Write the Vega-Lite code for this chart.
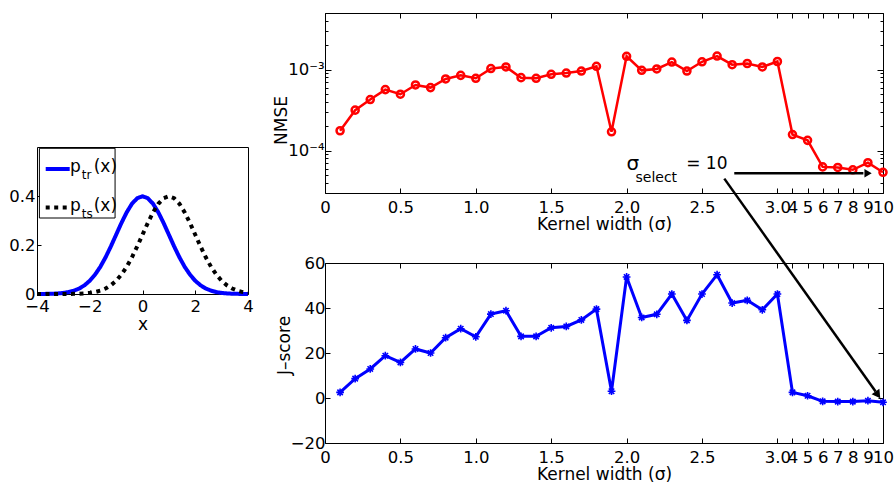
{
  "$schema": "https://vega.github.io/schema/vega-lite/v6.json",
  "background": "white",
  "padding": {"left": 8, "top": 4, "right": 2, "bottom": 1},
  "config": {
    "font": "DejaVu Sans",
    "view": {"stroke": "black", "strokeWidth": 1},
    "axis": {
      "domain": false, "grid": false, "tickColor": "black", "tickSize": -5, "tickWidth": 1,
      "labelColor": "black", "labelFont": "DejaVu Sans", "labelFontSize": 16.5,
      "titleFont": "DejaVu Sans", "titleFontSize": 17, "titleFontWeight": "normal", "titleColor": "black",
      "labelPadding": 11, "titlePadding": 1, "labelOverlap": false, "labelFlush": false, "labelBound": false
    }
  },
  "datasets": {
    "pdf": [
      {"x": -4.0, "p": 0.0001, "dist": "tr"}, {"x": -3.8, "p": 0.0003, "dist": "tr"}, {"x": -3.6, "p": 0.0006, "dist": "tr"},
      {"x": -3.4, "p": 0.0012, "dist": "tr"}, {"x": -3.2, "p": 0.0024, "dist": "tr"}, {"x": -3.0, "p": 0.0044, "dist": "tr"},
      {"x": -2.8, "p": 0.0079, "dist": "tr"}, {"x": -2.6, "p": 0.0136, "dist": "tr"}, {"x": -2.4, "p": 0.0224, "dist": "tr"},
      {"x": -2.2, "p": 0.0355, "dist": "tr"}, {"x": -2.0, "p": 0.0540, "dist": "tr"}, {"x": -1.8, "p": 0.0790, "dist": "tr"},
      {"x": -1.6, "p": 0.1109, "dist": "tr"}, {"x": -1.4, "p": 0.1497, "dist": "tr"}, {"x": -1.2, "p": 0.1942, "dist": "tr"},
      {"x": -1.0, "p": 0.2420, "dist": "tr"}, {"x": -0.8, "p": 0.2897, "dist": "tr"}, {"x": -0.6, "p": 0.3332, "dist": "tr"},
      {"x": -0.4, "p": 0.3683, "dist": "tr"}, {"x": -0.2, "p": 0.3910, "dist": "tr"}, {"x": 0.0, "p": 0.3989, "dist": "tr"},
      {"x": 0.2, "p": 0.3910, "dist": "tr"}, {"x": 0.4, "p": 0.3683, "dist": "tr"}, {"x": 0.6, "p": 0.3332, "dist": "tr"},
      {"x": 0.8, "p": 0.2897, "dist": "tr"}, {"x": 1.0, "p": 0.2420, "dist": "tr"}, {"x": 1.2, "p": 0.1942, "dist": "tr"},
      {"x": 1.4, "p": 0.1497, "dist": "tr"}, {"x": 1.6, "p": 0.1109, "dist": "tr"}, {"x": 1.8, "p": 0.0790, "dist": "tr"},
      {"x": 2.0, "p": 0.0540, "dist": "tr"}, {"x": 2.2, "p": 0.0355, "dist": "tr"}, {"x": 2.4, "p": 0.0224, "dist": "tr"},
      {"x": 2.6, "p": 0.0136, "dist": "tr"}, {"x": 2.8, "p": 0.0079, "dist": "tr"}, {"x": 3.0, "p": 0.0044, "dist": "tr"},
      {"x": 3.2, "p": 0.0024, "dist": "tr"}, {"x": 3.4, "p": 0.0012, "dist": "tr"}, {"x": 3.6, "p": 0.0006, "dist": "tr"},
      {"x": 3.8, "p": 0.0003, "dist": "tr"}, {"x": 4.0, "p": 0.0001, "dist": "tr"},
      {"x": -4.0, "p": 0.0, "dist": "ts"}, {"x": -3.8, "p": 0.0, "dist": "ts"}, {"x": -3.6, "p": 0.00001, "dist": "ts"},
      {"x": -3.4, "p": 0.00003, "dist": "ts"}, {"x": -3.2, "p": 0.00006, "dist": "ts"}, {"x": -3.0, "p": 0.0001, "dist": "ts"},
      {"x": -2.8, "p": 0.0003, "dist": "ts"}, {"x": -2.6, "p": 0.0006, "dist": "ts"}, {"x": -2.4, "p": 0.0012, "dist": "ts"},
      {"x": -2.2, "p": 0.0024, "dist": "ts"}, {"x": -2.0, "p": 0.0044, "dist": "ts"}, {"x": -1.8, "p": 0.0079, "dist": "ts"},
      {"x": -1.6, "p": 0.0136, "dist": "ts"}, {"x": -1.4, "p": 0.0224, "dist": "ts"}, {"x": -1.2, "p": 0.0355, "dist": "ts"},
      {"x": -1.0, "p": 0.0540, "dist": "ts"}, {"x": -0.8, "p": 0.0790, "dist": "ts"}, {"x": -0.6, "p": 0.1109, "dist": "ts"},
      {"x": -0.4, "p": 0.1497, "dist": "ts"}, {"x": -0.2, "p": 0.1942, "dist": "ts"}, {"x": 0.0, "p": 0.2420, "dist": "ts"},
      {"x": 0.2, "p": 0.2897, "dist": "ts"}, {"x": 0.4, "p": 0.3332, "dist": "ts"}, {"x": 0.6, "p": 0.3683, "dist": "ts"},
      {"x": 0.8, "p": 0.3910, "dist": "ts"}, {"x": 1.0, "p": 0.3989, "dist": "ts"}, {"x": 1.2, "p": 0.3910, "dist": "ts"},
      {"x": 1.4, "p": 0.3683, "dist": "ts"}, {"x": 1.6, "p": 0.3332, "dist": "ts"}, {"x": 1.8, "p": 0.2897, "dist": "ts"},
      {"x": 2.0, "p": 0.2420, "dist": "ts"}, {"x": 2.2, "p": 0.1942, "dist": "ts"}, {"x": 2.4, "p": 0.1497, "dist": "ts"},
      {"x": 2.6, "p": 0.1109, "dist": "ts"}, {"x": 2.8, "p": 0.0790, "dist": "ts"}, {"x": 3.0, "p": 0.0540, "dist": "ts"},
      {"x": 3.2, "p": 0.0355, "dist": "ts"}, {"x": 3.4, "p": 0.0224, "dist": "ts"}, {"x": 3.6, "p": 0.0136, "dist": "ts"},
      {"x": 3.8, "p": 0.0079, "dist": "ts"}, {"x": 4.0, "p": 0.0044, "dist": "ts"}
    ],
    "scores": [
      {"sigma": 0.1, "nmse": 0.000176, "jscore": 2.5},
      {"sigma": 0.2, "nmse": 0.000316, "jscore": 8.6},
      {"sigma": 0.3, "nmse": 0.000427, "jscore": 12.9},
      {"sigma": 0.4, "nmse": 0.000567, "jscore": 18.8},
      {"sigma": 0.5, "nmse": 0.000497, "jscore": 15.8},
      {"sigma": 0.6, "nmse": 0.000647, "jscore": 21.8},
      {"sigma": 0.7, "nmse": 0.000600, "jscore": 20.0},
      {"sigma": 0.8, "nmse": 0.000767, "jscore": 26.8},
      {"sigma": 0.9, "nmse": 0.000850, "jscore": 30.8},
      {"sigma": 1.0, "nmse": 0.000782, "jscore": 27.2},
      {"sigma": 1.1, "nmse": 0.00103, "jscore": 37.3},
      {"sigma": 1.2, "nmse": 0.00108, "jscore": 38.8},
      {"sigma": 1.3, "nmse": 0.000796, "jscore": 27.4},
      {"sigma": 1.4, "nmse": 0.000782, "jscore": 27.4},
      {"sigma": 1.5, "nmse": 0.000875, "jscore": 31.2},
      {"sigma": 1.6, "nmse": 0.000908, "jscore": 31.8},
      {"sigma": 1.7, "nmse": 0.000960, "jscore": 34.7},
      {"sigma": 1.8, "nmse": 0.00110, "jscore": 39.5},
      {"sigma": 1.9, "nmse": 0.000171, "jscore": 3.0},
      {"sigma": 2.0, "nmse": 0.00146, "jscore": 53.8},
      {"sigma": 2.1, "nmse": 0.000980, "jscore": 35.8},
      {"sigma": 2.2, "nmse": 0.00102, "jscore": 37.2},
      {"sigma": 2.3, "nmse": 0.00124, "jscore": 46.2},
      {"sigma": 2.4, "nmse": 0.000960, "jscore": 34.5},
      {"sigma": 2.5, "nmse": 0.00125, "jscore": 46.2},
      {"sigma": 2.6, "nmse": 0.00147, "jscore": 54.8},
      {"sigma": 2.7, "nmse": 0.00115, "jscore": 42.2},
      {"sigma": 2.8, "nmse": 0.00119, "jscore": 43.4},
      {"sigma": 2.9, "nmse": 0.00108, "jscore": 39.2},
      {"sigma": 3.0, "nmse": 0.00126, "jscore": 46.2},
      {"sigma": 4, "nmse": 0.000158, "jscore": 2.5},
      {"sigma": 5, "nmse": 0.000134, "jscore": 1.0},
      {"sigma": 6, "nmse": 0.000063, "jscore": -1.5},
      {"sigma": 7, "nmse": 0.000062, "jscore": -1.6},
      {"sigma": 8, "nmse": 0.000058, "jscore": -1.6},
      {"sigma": 9, "nmse": 0.000071, "jscore": -1.2},
      {"sigma": 10, "nmse": 0.000054, "jscore": -1.9}
    ]
  },
  "spacing": 15,
  "hconcat": [
    {
      "spacing": 0,
      "vconcat": [
        {
          "width": 211, "height": 133,
          "view": {"stroke": null},
          "data": {"values": [{}]},
          "mark": {"type": "text", "text": ""}
        },
        {
          "width": 211, "height": 147,
          "resolve": {"axis": {"x": "independent", "y": "independent"}},
          "layer": [
            {
              "data": {"name": "pdf"},
              "mark": {"type": "line", "strokeWidth": 4, "strokeCap": "butt"},
              "encoding": {
                "x": {"field": "x", "type": "quantitative", "scale": {"domain": [-4, 4], "nice": false},
                      "axis": {"values": [-4, -2, 0, 2, 4], "title": "x", "labelPadding": 8, "titlePadding": 2, "tickSize": -4}},
                "y": {"field": "p", "type": "quantitative", "scale": {"domain": [0, 0.6], "nice": false},
                      "axis": {"values": [0, 0.2, 0.4], "labelExpr": "datum.value == 0 ? '0' : format(datum.value, '.1f')", "title": null, "labelPadding": 6, "tickSize": -4}},
                "color": {"field": "dist", "type": "nominal", "scale": {"domain": ["tr", "ts"], "range": ["#0000ff", "#000000"]}, "legend": null},
                "strokeDash": {"field": "dist", "type": "nominal", "scale": {"domain": ["tr", "ts"], "range": [[1, 0], [4, 4.5]]}, "legend": null}
              }
            },
            {
              "data": {"values": [{}]},
              "mark": {"type": "rect", "fill": "white", "stroke": "black", "strokeWidth": 1},
              "encoding": {"x": {"datum": -3.909, "type": "quantitative", "axis": null}, "x2": {"datum": -1.04},
                           "y": {"datum": 0.5947, "type": "quantitative", "axis": null}, "y2": {"datum": 0.3102}}
            },
            {
              "data": {"values": [{}]},
              "mark": {"type": "rule", "color": "#0000ff", "strokeWidth": 4},
              "encoding": {"x": {"datum": -3.67, "type": "quantitative", "axis": null}, "x2": {"datum": -2.76},
                           "y": {"datum": 0.5102, "type": "quantitative", "axis": null}}
            },
            {
              "data": {"values": [{}]},
              "mark": {"type": "rule", "color": "#000000", "strokeWidth": 4, "strokeDash": [4, 4.5]},
              "encoding": {"x": {"datum": -3.67, "type": "quantitative", "axis": null}, "x2": {"datum": -2.76},
                           "y": {"datum": 0.3535, "type": "quantitative", "axis": null}}
            },
            {
              "data": {"values": [{}]},
              "mark": {"type": "text", "text": "p", "align": "left", "baseline": "alphabetic", "fontSize": 17, "color": "black"},
              "encoding": {"x": {"datum": -2.749, "type": "quantitative", "axis": null}, "y": {"datum": 0.4992, "type": "quantitative", "axis": null}}
            },
            {
              "data": {"values": [{}]},
              "mark": {"type": "text", "text": "tr", "align": "left", "baseline": "alphabetic", "fontSize": 12, "color": "black"},
              "encoding": {"x": {"datum": -2.305, "type": "quantitative", "axis": null}, "y": {"datum": 0.4694, "type": "quantitative", "axis": null}}
            },
            {
              "data": {"values": [{}]},
              "mark": {"type": "text", "text": "(x)", "align": "left", "baseline": "alphabetic", "fontSize": 17, "color": "black"},
              "encoding": {"x": {"datum": -1.85, "type": "quantitative", "axis": null}, "y": {"datum": 0.4992, "type": "quantitative", "axis": null}}
            },
            {
              "data": {"values": [{}]},
              "mark": {"type": "text", "text": "p", "align": "left", "baseline": "alphabetic", "fontSize": 17, "color": "black"},
              "encoding": {"x": {"datum": -2.749, "type": "quantitative", "axis": null}, "y": {"datum": 0.34, "type": "quantitative", "axis": null}}
            },
            {
              "data": {"values": [{}]},
              "mark": {"type": "text", "text": "ts", "align": "left", "baseline": "alphabetic", "fontSize": 12, "color": "black"},
              "encoding": {"x": {"datum": -2.305, "type": "quantitative", "axis": null}, "y": {"datum": 0.3086, "type": "quantitative", "axis": null}}
            },
            {
              "data": {"values": [{}]},
              "mark": {"type": "text", "text": "(x)", "align": "left", "baseline": "alphabetic", "fontSize": 17, "color": "black"},
              "encoding": {"x": {"datum": -1.85, "type": "quantitative", "axis": null}, "y": {"datum": 0.34, "type": "quantitative", "axis": null}}
            }
          ]
        }
      ]
    },
    {
      "bounds": "flush",
      "spacing": 70,
      "vconcat": [
        {
          "width": 558, "height": 180,
          "data": {"name": "scores"},
          "resolve": {"axis": {"x": "independent", "y": "independent"}},
          "layer": [
            {
              "mark": {"type": "line", "color": "#ff0000", "strokeWidth": 2.5},
              "encoding": {
                "x": {"field": "sigma", "type": "quantitative",
                      "scale": {"domain": [0, 3, 10], "range": [0, 452.4, 558], "nice": false, "zero": false},
                      "axis": {"orient": "bottom", "values": [0, 0.5, 1, 1.5, 2, 2.5, 3, 4, 5, 6, 7, 8, 9, 10],
                               "labelExpr": "datum.value > 0 && datum.value <= 3 ? format(datum.value, '.1f') : format(datum.value, 'd')",
                               "title": "Kernel width (σ)"}},
                "y": {"field": "nmse", "type": "quantitative",
                      "scale": {"type": "log", "domain": [0.00003, 0.005], "nice": false},
                      "axis": {"orient": "left",
                               "values": [0.00003, 0.00004, 0.00005, 0.00006, 0.00007, 0.00008, 0.00009, 0.0001, 0.0002, 0.0003, 0.0004, 0.0005, 0.0006, 0.0007, 0.0008, 0.0009, 0.001, 0.002, 0.003, 0.004, 0.005],
                               "labelExpr": "datum.value == 0.001 ? '10⁻³' : datum.value == 0.0001 ? '10⁻⁴' : ''",
                               "tickSize": {"condition": {"test": "datum.value == 0.001 || datum.value == 0.0001", "value": -6}, "value": -3},
                               "labelPadding": 7, "title": "NMSE", "titleY": 107, "titlePadding": -3}}
              }
            },
            {
              "mark": {"type": "point", "shape": "circle", "filled": false, "color": "#ff0000", "strokeWidth": 2.5, "size": 50, "opacity": 1},
              "encoding": {
                "x": {"field": "sigma", "type": "quantitative",
                      "axis": {"orient": "top", "values": [0, 0.5, 1, 1.5, 2, 2.5, 3, 4, 5, 6, 7, 8, 9, 10], "labels": false, "title": null}},
                "y": {"field": "nmse", "type": "quantitative",
                      "axis": {"orient": "right",
                               "values": [0.00003, 0.00004, 0.00005, 0.00006, 0.00007, 0.00008, 0.00009, 0.0001, 0.0002, 0.0003, 0.0004, 0.0005, 0.0006, 0.0007, 0.0008, 0.0009, 0.001, 0.002, 0.003, 0.004, 0.005],
                               "tickSize": {"condition": {"test": "datum.value == 0.001 || datum.value == 0.0001", "value": -6}, "value": -3},
                               "labels": false, "title": null}}
              }
            },
            {
              "data": {"values": [{}]},
              "mark": {"type": "text", "text": "σ", "align": "left", "baseline": "alphabetic", "fontSize": 20, "color": "black"},
              "encoding": {"x": {"datum": 2.0, "type": "quantitative", "axis": null}, "y": {"datum": 0.0000577, "type": "quantitative", "axis": null}}
            },
            {
              "data": {"values": [{}]},
              "mark": {"type": "text", "text": "select", "align": "left", "baseline": "alphabetic", "fontSize": 14, "color": "black"},
              "encoding": {"x": {"datum": 2.059, "type": "quantitative", "axis": null}, "y": {"datum": 0.0000414, "type": "quantitative", "axis": null}}
            },
            {
              "data": {"values": [{}]},
              "mark": {"type": "text", "text": "= 10", "align": "left", "baseline": "alphabetic", "fontSize": 17, "color": "black"},
              "encoding": {"x": {"datum": 2.395, "type": "quantitative", "axis": null}, "y": {"datum": 0.0000594, "type": "quantitative", "axis": null}}
            },
            {
              "data": {"values": [{}]},
              "mark": {"type": "rule", "color": "black", "strokeWidth": 2.5},
              "encoding": {"x": {"datum": 2.714, "type": "quantitative", "axis": null}, "x2": {"datum": 8.7}, "y": {"datum": 0.0000526, "type": "quantitative", "axis": null}}
            },
            {
              "data": {"values": [{}]},
              "mark": {"type": "point", "shape": "triangle-right", "filled": true, "color": "black", "opacity": 1, "size": 70},
              "encoding": {"x": {"datum": 9.01, "type": "quantitative", "axis": null}, "y": {"datum": 0.0000526, "type": "quantitative", "axis": null}}
            }
          ]
        },
        {
          "width": 558, "height": 180,
          "data": {"name": "scores"},
          "resolve": {"axis": {"x": "independent", "y": "independent"}},
          "layer": [
            {
              "mark": {"type": "line", "color": "#0000ff", "strokeWidth": 3},
              "encoding": {
                "x": {"field": "sigma", "type": "quantitative",
                      "scale": {"domain": [0, 3, 10], "range": [0, 452.4, 558], "nice": false, "zero": false},
                      "axis": {"orient": "bottom", "values": [0, 0.5, 1, 1.5, 2, 2.5, 3, 4, 5, 6, 7, 8, 9, 10],
                               "labelExpr": "datum.value > 0 && datum.value <= 3 ? format(datum.value, '.1f') : format(datum.value, 'd')",
                               "title": "Kernel width (σ)"}},
                "y": {"field": "jscore", "type": "quantitative",
                      "scale": {"domain": [-20, 60], "nice": false},
                      "axis": {"orient": "left", "values": [-20, 0, 20, 40, 60], "labelPadding": 5,
                               "title": "J–score", "titleY": 82, "titlePadding": -3}}
              }
            },
            {
              "mark": {"type": "point", "shape": "M-1,0L1,0M0,-1L0,1M-0.7,-0.7L0.7,0.7M-0.7,0.7L0.7,-0.7", "filled": false, "color": "#0000ff", "strokeWidth": 1.6, "size": 60, "opacity": 1},
              "encoding": {
                "x": {"field": "sigma", "type": "quantitative",
                      "axis": {"orient": "top", "values": [0, 0.5, 1, 1.5, 2, 2.5, 3, 4, 5, 6, 7, 8, 9, 10], "labels": false, "title": null}},
                "y": {"field": "jscore", "type": "quantitative",
                      "axis": {"orient": "right", "values": [-20, 0, 20, 40, 60], "labels": false, "title": null}}
              }
            },
            {
              "data": {"values": [{}]},
              "mark": {"type": "rule", "color": "black", "strokeWidth": 2.5},
              "encoding": {"x": {"datum": 2.648, "type": "quantitative", "axis": null}, "x2": {"datum": 9.51},
                           "y": {"datum": 97.5, "type": "quantitative", "axis": null}, "y2": {"datum": 2.9}}
            },
            {
              "data": {"values": [{}]},
              "mark": {"type": "point", "shape": "triangle-up", "filled": true, "color": "black", "opacity": 1, "size": 90, "angle": 144.7},
              "encoding": {"x": {"datum": 9.66, "type": "quantitative", "axis": null}, "y": {"datum": 1.4, "type": "quantitative", "axis": null}}
            }
          ]
        }
      ]
    }
  ]
}
